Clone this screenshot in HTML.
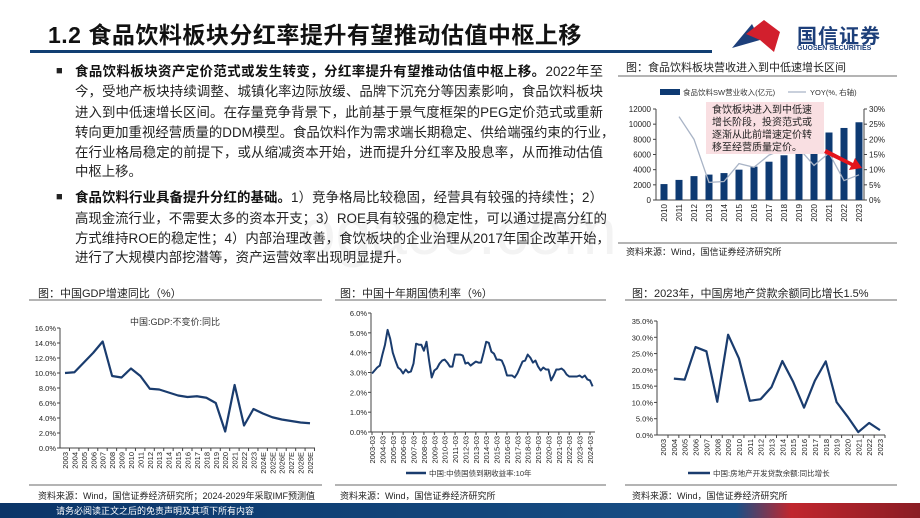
<!DOCTYPE html>
<html><head><meta charset="utf-8">
<style>
body{margin:0;width:920px;height:518px;overflow:hidden;background:#fff;font-family:"Liberation Sans","Noto Sans CJK SC",sans-serif;position:relative}
.abs{position:absolute;white-space:nowrap}
.ln{position:absolute;left:75px;width:528px;font-size:13.4px;color:#222;text-align:justify;text-align-last:justify;white-space:nowrap;line-height:16px}
.ln.last{text-align-last:left}
.bul{position:absolute;left:56px;font-size:11px;color:#222}
b{font-weight:bold;color:#111}
.ct{font-size:11px;color:#222}
.src{font-size:9px;color:#222}
</style></head><body>
<div class="abs" style="left:300px;top:195px;font-size:64px;color:#f3f3f3;z-index:0">ogaoo.com</div>
<div class="abs" style="left:48px;top:16px;font-size:23px;font-weight:bold;color:#111;letter-spacing:0.5px">1.2 食品饮料板块分红率提升有望推动估值中枢上移</div>
<div class="abs" style="left:30px;top:50px;width:682px;height:3px;background:#123f73"></div>
<svg class="abs" style="left:730px;top:18px" width="54" height="38" viewBox="0 0 54 38">
<path d="M2 30 L22 6 L30 22 Z" fill="#1d3f7a"/><path d="M16 16 L34 2 L50 14 L44 34 L30 22 Z" fill="#d21f2d"/></svg>
<div class="abs" style="left:797px;top:20px;font-size:20px;font-weight:bold;color:#1d3f7a;letter-spacing:1px">国信证券</div>
<div class="abs" style="left:797px;top:45px;font-size:7px;font-weight:bold;color:#1d3f7a">GUOSEN SECURITIES</div>

<div style="position:absolute;left:0;top:0;z-index:1">
<div class="bul" style="top:65px">■</div>
<div class="ln" style="top:64px"><b>食品饮料板块资产定价范式或发生转变，分红率提升有望推动估值中枢上移。</b>2022年至</div>
<div class="ln" style="top:84px">今，受地产板块持续调整、城镇化率边际放缓、品牌下沉充分等因素影响，食品饮料板块</div>
<div class="ln" style="top:105px">进入到中低速增长区间。在存量竞争背景下，此前基于景气度框架的PEG定价范式或重新</div>
<div class="ln" style="top:125px">转向更加重视经营质量的DDM模型。食品饮料作为需求端长期稳定、供给端强约束的行业，</div>
<div class="ln" style="top:145px">在行业格局稳定的前提下，或从缩减资本开始，进而提升分红率及股息率，从而推动估值</div>
<div class="ln last" style="top:164px">中枢上移。</div>
<div class="bul" style="top:191px">■</div>
<div class="ln" style="top:190px"><b>食品饮料行业具备提升分红的基础。</b>1）竞争格局比较稳固，经营具有较强的持续性；2）</div>
<div class="ln" style="top:211px">高现金流行业，不需要太多的资本开支；3）ROE具有较强的稳定性，可以通过提高分红的</div>
<div class="ln" style="top:231px">方式维持ROE的稳定性；4）内部治理改善，食饮板块的企业治理从2017年国企改革开始，</div>
<div class="ln last" style="top:250px">进行了大规模内部挖潜等，资产运营效率出现明显提升。</div>
</div>

<div class="abs ct" style="left:626px;top:59px">图：食品饮料板块营收进入到中低速增长区间</div>
<div class="abs ct" style="left:38px;top:285px">图：中国GDP增速同比（%）</div>
<div class="abs ct" style="left:340px;top:285px">图：中国十年期国债利率（%）</div>
<div class="abs ct" style="left:632px;top:285px">图：2023年，中国房地产贷款余额同比增长1.5%</div>
<div class="abs src" style="left:626px;top:245px">资料来源：Wind，国信证券经济研究所</div>
<div class="abs src" style="left:38px;top:489px">资料来源：Wind，国信证券经济研究所；2024-2029年采取IMF预测值</div>
<div class="abs src" style="left:340px;top:489px">资料来源：Wind，国信证券经济研究所</div>
<div class="abs src" style="left:632px;top:489px">资料来源：Wind，国信证券经济研究所</div>

<div class="abs" style="left:0;top:503px;width:920px;height:15px;background:linear-gradient(90deg,#0b3568 0%,#14497f 60%,#1a4f86 80%,#c0262e 86%,#8a1d24 100%)"></div>
<div class="abs" style="left:56px;top:504px;font-size:9px;color:#fff">请务必阅读正文之后的免责声明及其项下所有内容</div>

<svg id="s" class="abs" style="left:0;top:0" width="920" height="518" font-family="Liberation Sans, Noto Sans CJK SC, sans-serif"></svg>
<script>
// revenue chart data
const revYears=['2010','2011','2012','2013','2014','2015','2016','2017','2018','2019','2020','2021','2022','2023'];
const revValues=[2100,2650,3150,3350,3550,4000,4400,5050,5900,6900,7700,8900,9500,10250];
const revYoy=[null,27.5,20,5.8,6.1,12,10.8,14.8,16.8,17,11.4,15.5,6.4,8.3];
const revLeftTicks=[0,2000,4000,6000,8000,10000,12000];
const revRightTicks=[0,5,10,15,20,25,30];
// GDP chart data
const gdpYears=['2003','2004','2005','2006','2007','2008','2009','2010','2011','2012','2013','2014','2015','2016','2017','2018','2019','2020','2021','2022','2023','2024E','2025E','2026E','2027E','2028E','2029E'];
const gdpValues=[10.0,10.1,11.4,12.7,14.2,9.6,9.4,10.6,9.6,7.9,7.8,7.4,7.0,6.8,6.9,6.7,6.0,2.2,8.4,3.0,5.2,4.6,4.1,3.8,3.6,3.4,3.3];
const gdpTicks=[0,2,4,6,8,10,12,14,16];
// bond chart data (quarterly from 2003-03)
const bondLabels=['2003-03','2004-03','2005-03','2006-03','2007-03','2008-03','2009-03','2010-03','2011-03','2012-03','2013-03','2014-03','2015-03','2016-03','2017-03','2018-03','2019-03','2020-03','2021-03','2022-03','2023-03','2024-03'];
const bondValues=[2.95,3.1,3.25,3.35,3.9,4.4,5.15,4.7,4.0,3.6,3.25,3.15,2.95,3.15,3.0,3.05,3.45,4.45,4.4,4.4,4.1,4.55,3.6,2.75,3.1,3.2,3.45,3.6,3.65,3.5,3.3,3.3,3.9,3.9,3.9,3.85,3.45,3.5,3.35,3.45,3.55,3.5,3.5,4.0,4.55,4.5,4.05,3.95,3.65,3.65,3.6,3.3,2.85,2.85,2.85,2.75,2.95,3.25,3.55,3.6,3.9,3.75,3.5,3.6,3.3,3.1,3.25,3.15,3.15,2.6,2.85,3.15,3.15,3.2,3.1,2.9,2.8,2.8,2.8,2.8,2.85,2.75,2.85,2.65,2.6,2.3];
const bondTicks=[0,1,2,3,4,5,6];
// real estate loan chart data
const loanYears=['2003','2004','2005','2006','2007','2008','2009','2010','2011','2012','2013','2014','2015','2016','2017','2018','2019','2020','2021','2022','2023'];
const loanValues=[null,17.3,17.0,27.0,25.7,10.2,30.8,23.5,10.5,11.0,14.7,22.7,16.3,8.4,16.7,22.6,10.1,5.7,0.9,3.7,1.5];
const loanTicks=[0,5,10,15,20,25,30,35];

const S=document.getElementById('s');const NS='http://www.w3.org/2000/svg';
function el(t,a,p){const e=document.createElementNS(NS,t);for(const k in a)e.setAttribute(k,a[k]);(p||S).appendChild(e);return e;}
function txt(s,a,p){const e=el('text',a,p);e.textContent=s;return e;}
function lin(d0,d1,r0,r1){return v=>r0+(v-d0)/(d1-d0)*(r1-r0);}
const AX='#444',LC='#1a3c6e';

[[618,76,897],[618,243,897],[29,300,322],[335,300,606],[625,300,897],[29,485,322],[335,485,606],[625,485,897]].forEach(r=>{
 const l=el('line',{x1:r[0],y1:r[1],x2:r[2],y2:r[1],stroke:'#888','stroke-width':1.2});
 
 
});

(function(){
 const g=el('g',{});
 
 
 const y=lin(0,12000,200,109), yr=lin(0,30,200,109);
 const x=i=>664+i*15;
 el('line',{x1:656,y1:109,x2:656,y2:200,stroke:AX},g);
 el('line',{x1:864,y1:109,x2:864,y2:200,stroke:AX},g);
 el('line',{x1:656,y1:200,x2:864,y2:200,stroke:AX},g);
 revLeftTicks.forEach(t=>{el('line',{x1:653,x2:656,y1:y(t),y2:y(t),stroke:AX},g);txt(String(t),{x:651,y:y(t)+3,'font-size':8,'text-anchor':'end',fill:'#222'},g);});
 revRightTicks.forEach(t=>{el('line',{x1:864,x2:867,y1:yr(t),y2:yr(t),stroke:AX},g);txt(t+'%',{x:869,y:yr(t)+3,'font-size':8,fill:'#222'},g);});
 revValues.forEach((v,i)=>{const b=el('rect',{x:x(i)-3.5,y:y(v),width:7,height:200-y(v),fill:'#0e3a72'},g);
  
  
  txt(revYears[i],{transform:`translate(${x(i)+3},204) rotate(-90)`,'font-size':8,'text-anchor':'end',fill:'#222'},g);});
 let d='';revYoy.forEach((v,i)=>{if(v==null)return;d+=(d?'L':'M')+x(i)+' '+yr(v);});
 const p=el('path',{d,fill:'none',stroke:'#a9b4c6','stroke-width':1.3},g);
 
 
 el('rect',{x:660,y:89,width:20,height:6,fill:'#0e3a72'},g);
 txt('食品饮料SW营业收入(亿元)',{x:683,y:95,'font-size':7.5,fill:'#333'},g);
 el('line',{x1:788,y1:92,x2:806,y2:92,stroke:'#a9b4c6','stroke-width':1.3},g);
 txt('YOY(%, 右轴)',{x:810,y:95,'font-size':7.5,fill:'#333'},g);
 const box=el('rect',{x:706,y:102,width:118,height:52,fill:'#f9dfe2'},g);
 
 
 ['食饮板块进入到中低速','增长阶段，投资范式或','逐渐从此前增速定价转','移至经营质量定价。'].forEach((s,i)=>txt(s,{x:712,y:113+i*12.5,'font-size':10,fill:'#222'},g));
 const ar=el('path',{d:'M826 149 L853 163 L855 158 L862 168 L849 170 L851 166 L824 153 Z',fill:'#e3141b'},g);
 
 
})();

function lineChart(name,cats,vals,ticks,fmt,X0,X1,P0,P1,Y0,Y1){
 const g=el('g',{});
 
 
 const y=lin(ticks[0],ticks[ticks.length-1],Y0,Y1);
 el('line',{x1:X0,y1:Y1,x2:X0,y2:Y0,stroke:AX},g);
 el('line',{x1:X0,y1:Y0,x2:X1,y2:Y0,stroke:AX},g);
 ticks.forEach(t=>{el('line',{x1:X0-3,x2:X0,y1:y(t),y2:y(t),stroke:AX},g);txt(fmt(t),{x:X0-4,y:y(t)+3,'font-size':7.5,'text-anchor':'end',fill:'#222'},g);});
 return {g,y};
}
(function(){
 const {g,y}=lineChart('gdp-chart',gdpYears,gdpValues,gdpTicks,t=>t.toFixed(1)+'%',60,315,0,0,448,328);
 const x=i=>65+i*(310-65)/(gdpYears.length-1);
 gdpYears.forEach((c,i)=>{el('line',{x1:x(i)+4.5,x2:x(i)+4.5,y1:448,y2:451,stroke:AX},g);txt(c,{transform:`translate(${x(i)+3},452) rotate(-90)`,'font-size':7.5,'text-anchor':'end',fill:'#222'},g);});
 let d='';gdpValues.forEach((v,i)=>d+=(i?'L':'M')+x(i)+' '+y(v));
 const p=el('path',{d,fill:'none',stroke:LC,'stroke-width':2.2,'stroke-linejoin':'round'},g);
 
 
 txt('中国:GDP:不变价:同比',{x:175,y:325,'font-size':9,'text-anchor':'middle',fill:'#333'},g);
})();
(function(){
 const {g,y}=lineChart('bond-chart',bondLabels,bondValues,bondTicks,t=>t.toFixed(1)+'%',371,595,0,0,432,313);
 const step=(590-372)/(bondLabels.length-1);
 const x=i=>372+i*step/4;
 bondLabels.forEach((c,i)=>{const xx=372+i*step;el('line',{x1:xx,x2:xx,y1:432,y2:435,stroke:AX},g);txt(c,{transform:`translate(${xx+3},436) rotate(-90)`,'font-size':7.5,'text-anchor':'end',fill:'#222'},g);});
 let d='';bondValues.forEach((v,i)=>d+=(i?'L':'M')+x(i).toFixed(1)+' '+y(v).toFixed(1));
 const p=el('path',{d,fill:'none',stroke:LC,'stroke-width':2,'stroke-linejoin':'round'},g);
 
 
 el('line',{x1:406,y1:473,x2:426,y2:473,stroke:LC,'stroke-width':2.5},g);
 txt('中国:中债国债到期收益率:10年',{x:429,y:476,'font-size':7.5,fill:'#333'},g);
})();
(function(){
 const {g,y}=lineChart('loan-chart',loanYears,loanValues,loanTicks,t=>t.toFixed(1)+'%',657,885,0,0,435,321);
 const x=i=>663+i*(880-663)/(loanYears.length-1);
 loanYears.forEach((c,i)=>{el('line',{x1:x(i)+5,x2:x(i)+5,y1:435,y2:438,stroke:AX},g);txt(c,{transform:`translate(${x(i)+3},439) rotate(-90)`,'font-size':7.5,'text-anchor':'end',fill:'#222'},g);});
 let d='';loanValues.forEach((v,i)=>{if(v==null)return;d+=(d?'L':'M')+x(i)+' '+y(v);});
 const p=el('path',{d,fill:'none',stroke:LC,'stroke-width':2.2,'stroke-linejoin':'round'},g);
 
 
 el('line',{x1:688,y1:473,x2:710,y2:473,stroke:LC,'stroke-width':2.5},g);
 txt('中国:房地产开发贷款余额:同比增长',{x:713,y:476,'font-size':7.5,fill:'#333'},g);
})();
</script>
</body></html>
